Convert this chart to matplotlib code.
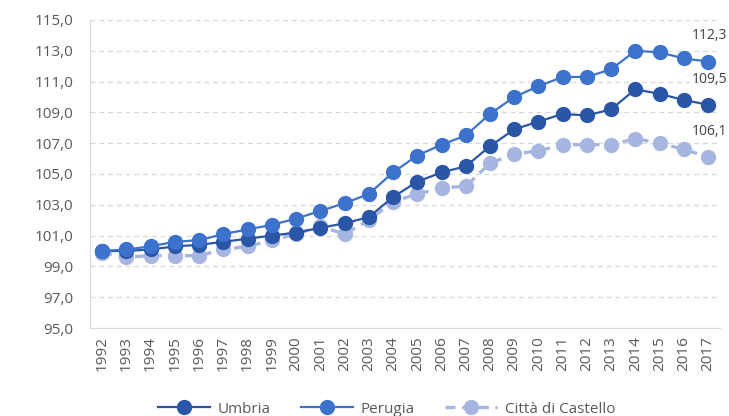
import matplotlib
matplotlib.use("Agg")
import matplotlib.pyplot as plt
from matplotlib.ticker import FuncFormatter

years = list(range(1992, 2018))

umbria = [100.0, 100.0, 100.1, 100.3, 100.4, 100.6, 100.8, 101.0, 101.2, 101.5,
          101.8, 102.2, 103.5, 104.5, 105.1, 105.5, 106.8, 107.9, 108.4, 108.9,
          108.8, 109.2, 110.5, 110.2, 109.8, 109.5]
perugia = [100.0, 100.1, 100.3, 100.6, 100.7, 101.1, 101.4, 101.7, 102.1, 102.6,
           103.1, 103.7, 105.1, 106.2, 106.9, 107.5, 108.9, 110.0, 110.7, 111.3,
           111.3, 111.8, 113.0, 112.9, 112.5, 112.3]
castello = [99.9, 99.6, 99.7, 99.7, 99.7, 100.1, 100.3, 100.7, 101.1, 101.6,
            101.1, 102.0, 103.2, 103.7, 104.1, 104.2, 105.7, 106.3, 106.5, 106.9,
            106.9, 106.9, 107.3, 107.0, 106.6, 106.1]

series_names = ["Umbria", "Perugia", "Città di Castello"]
colors = ["#2A56A8", "#3D72CC", "#A7B6E0"]

plt.rcParams["font.family"] = ["Open Sans", "DejaVu Sans"]
text_color = "#595959"

fig = plt.figure(figsize=(7.29, 4.16), dpi=100)
ax = fig.add_axes([0.1235, 0.2115, 0.8645, 0.7405])

ax.plot(years, umbria, color=colors[0], lw=1.6, marker="o", ms=10,
        label=series_names[0], zorder=3)
ax.plot(years, perugia, color=colors[1], lw=1.6, marker="o", ms=10,
        label=series_names[1], zorder=4)
ax.plot(years, castello, color=colors[2], lw=2.4, ls=(0, (3, 2)), marker="o",
        ms=10, label=series_names[2], zorder=2)

for vals in (perugia, umbria, castello):
    ax.annotate(f"{vals[-1]:.1f}".replace(".", ","), (years[-1], vals[-1]),
                xytext=(1, 13), textcoords="offset points", ha="center",
                va="bottom", fontsize=10, color="#404040",
                annotation_clip=False)

ax.set_xlim(1991.5, 2017.5)
ax.set_ylim(95, 115)
ax.set_yticks(range(95, 116, 2))
ax.yaxis.set_major_formatter(FuncFormatter(lambda v, p: f"{v:.1f}".replace(".", ",")))
ax.set_xticks(years)
ax.set_xticklabels([str(y) for y in years], rotation=90)

ax.grid(axis="y", color="#D9D9D9", ls=(0, (4, 3)), lw=0.9)
ax.set_axisbelow(True)
for s in ("top", "right"):
    ax.spines[s].set_visible(False)
for s in ("left", "bottom"):
    ax.spines[s].set_color("#D9D9D9")
ax.tick_params(axis="both", length=0, colors=text_color, labelsize=11)
ax.tick_params(axis="y", pad=12)
ax.tick_params(axis="x", pad=6)

leg = fig.legend(loc="lower center", ncol=3, frameon=False, fontsize=11,
                 bbox_to_anchor=(0.53, -0.035), handlelength=3.4,
                 columnspacing=2.0, handletextpad=0.5)
for t in leg.get_texts():
    t.set_color(text_color)

fig.savefig("out.png", dpi=100)
